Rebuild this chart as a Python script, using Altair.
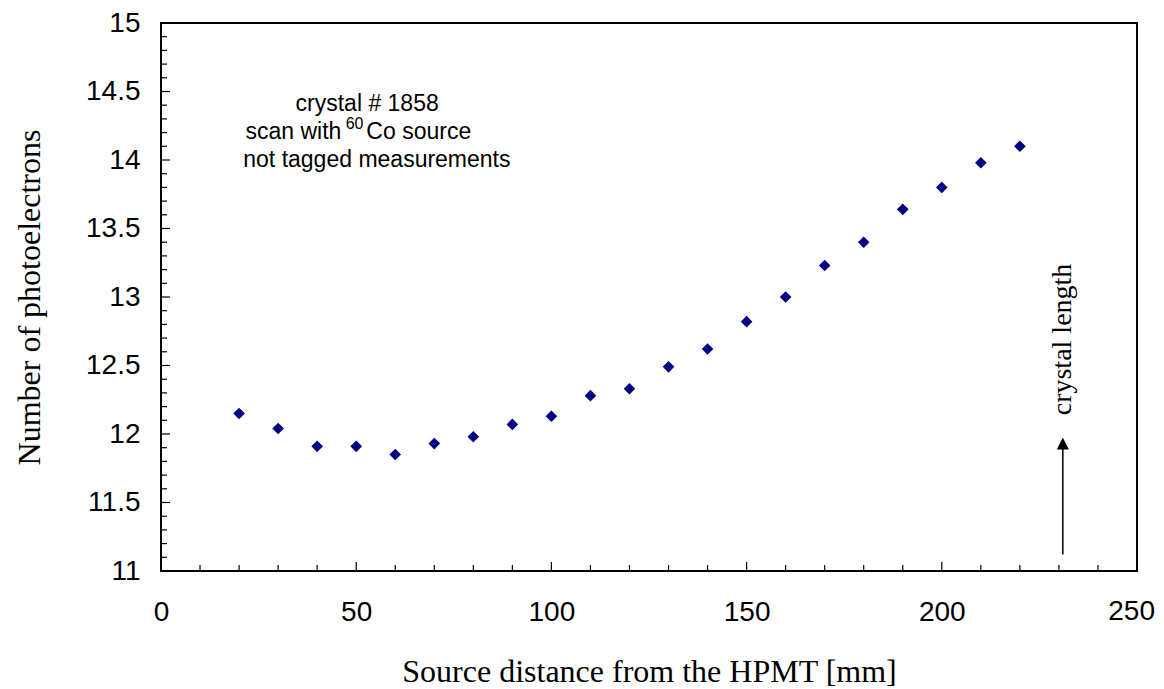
import altair as alt
import pandas as pd

# ---- data ----
distance_mm = [20, 30, 40, 50, 60, 70, 80, 90, 100, 110, 120, 130, 140, 150, 160, 170, 180, 190, 200, 210, 220]
photoelectrons = [12.15, 12.04, 11.91, 11.91, 11.85, 11.93, 11.98, 12.07, 12.13, 12.28, 12.33,
                  12.49, 12.62, 12.82, 13.00, 13.23, 13.40, 13.64, 13.80, 13.98, 14.10]

x_major_ticks = [0, 50, 100, 150, 200, 250]
x_axis_labels = [0, 50, 100, 150, 200]
x_edge_label = ["250"]
x_edge_label_x = [250]
x_minor_ticks = [10, 20, 30, 40, 60, 70, 80, 90, 110, 120, 130, 140, 160, 170, 180, 190, 210, 220, 230, 240]
y_major_ticks = [11, 11.5, 12, 12.5, 13, 13.5, 14, 14.5, 15]
y_minor_ticks = [round(11 + 0.1 * i, 1) for i in range(41) if i % 5 != 0]

# annotation text (data coordinates)
note_text = ["crystal # 1858", "not tagged measurements"]
note_x = [52.8, 55.3]
note_y = [14.36, 13.951]
line2_left = ["scan with"]
line2_left_x = [46.2]
line2_sup = ["60"]
line2_sup_x = [47.3]
line2_sup_y = [14.225]
line2_right = ["Co source"]
line2_right_x = [52.6]
line2_y = [14.152]

arrow_x = [231]
arrow_y_start = [11.12]
arrow_y_end = [11.89]
arrow_head_y = [11.93]
crystal_label = ["crystal length"]
crystal_label_y = [12.69]

W, H = 976, 548
SANS = "Liberation Sans"
SERIF = "Liberation Serif"
RIGHT_PAD = 19

xscale = alt.Scale(domain=[0, 250], nice=False, zero=False)
yscale = alt.Scale(domain=[11, 15], nice=False, zero=False)

df = pd.DataFrame({"x": distance_mm, "y": photoelectrons})

points = alt.Chart(df).mark_point(
    shape="diamond", filled=True, size=135, color="#000080", opacity=1
).encode(
    x=alt.X("x:Q", scale=xscale,
            axis=alt.Axis(title="Source distance from the HPMT [mm]", values=x_axis_labels,
                          format="d", grid=False, ticks=False, domain=False,
                          labelFlush=False, labelOverlap=False,
                          labelFont=SANS, labelFontSize=28, labelColor="black",
                          labelPadding=27,
                          titleFont=SERIF, titleFontSize=32, titleFontWeight="normal",
                          titleColor="black", titleBaseline="alphabetic", titleY=110,
                          titleX=W / 2)),
    y=alt.Y("y:Q", scale=yscale,
            axis=alt.Axis(title="Number of photoelectrons", values=y_major_ticks,
                          format=".1~f", grid=False, ticks=False, domain=False,
                          labelFlush=False, labelOverlap=False,
                          labelFont=SANS, labelFontSize=28, labelColor="black",
                          labelPadding=21,
                          titleFont=SERIF, titleFontSize=32, titleFontWeight="normal",
                          titleColor="black", titleAngle=270, titleBaseline="alphabetic",
                          titleX=-122, titleY=H / 2)),
)

# last x label, kept inside the page edge
edge_label = alt.Chart(pd.DataFrame({"t": x_edge_label, "x": x_edge_label_x})).mark_text(
    font=SANS, fontSize=28, color="black", align="right", baseline="top", dx=RIGHT_PAD - 1
).encode(x=alt.X("x:Q", scale=xscale), y=alt.value(H + 27), text="t:N")

# inward tick marks
xt_major = alt.Chart(pd.DataFrame({"x": x_major_ticks})).mark_rule(color="black", strokeWidth=1.2).encode(
    x=alt.X("x:Q", scale=xscale), y=alt.value(H), y2=alt.value(H - 9))
xt_minor = alt.Chart(pd.DataFrame({"x": x_minor_ticks})).mark_rule(color="black", strokeWidth=1.2).encode(
    x=alt.X("x:Q", scale=xscale), y=alt.value(H), y2=alt.value(H - 6))
yt_major = alt.Chart(pd.DataFrame({"y": y_major_ticks})).mark_rule(color="black", strokeWidth=1.2).encode(
    y=alt.Y("y:Q", scale=yscale), x=alt.value(0), x2=alt.value(9))
yt_minor = alt.Chart(pd.DataFrame({"y": y_minor_ticks})).mark_rule(color="black", strokeWidth=1.2).encode(
    y=alt.Y("y:Q", scale=yscale), x=alt.value(0), x2=alt.value(6))

notes = alt.Chart(pd.DataFrame({"t": note_text, "x": note_x, "y": note_y})).mark_text(
    font=SANS, fontSize=23, color="black", align="center", baseline="alphabetic"
).encode(x=alt.X("x:Q", scale=xscale), y=alt.Y("y:Q", scale=yscale), text="t:N")

l2a = alt.Chart(pd.DataFrame({"t": line2_left, "x": line2_left_x, "y": line2_y})).mark_text(
    font=SANS, fontSize=23, color="black", align="right", baseline="alphabetic"
).encode(x=alt.X("x:Q", scale=xscale), y=alt.Y("y:Q", scale=yscale), text="t:N")
l2b = alt.Chart(pd.DataFrame({"t": line2_sup, "x": line2_sup_x, "y": line2_sup_y})).mark_text(
    font=SANS, fontSize=16, color="black", align="left", baseline="alphabetic"
).encode(x=alt.X("x:Q", scale=xscale), y=alt.Y("y:Q", scale=yscale), text="t:N")
l2c = alt.Chart(pd.DataFrame({"t": line2_right, "x": line2_right_x, "y": line2_y})).mark_text(
    font=SANS, fontSize=23, color="black", align="left", baseline="alphabetic"
).encode(x=alt.X("x:Q", scale=xscale), y=alt.Y("y:Q", scale=yscale), text="t:N")

arrow_df = pd.DataFrame({"x": arrow_x, "y": arrow_y_start, "y2": arrow_y_end, "yh": arrow_head_y,
                         "t": crystal_label, "yt": crystal_label_y})
arrow_line = alt.Chart(arrow_df).mark_rule(color="black", strokeWidth=1.5).encode(
    x=alt.X("x:Q", scale=xscale), y=alt.Y("y:Q", scale=yscale), y2="y2:Q")
arrow_head = alt.Chart(arrow_df).mark_point(
    shape="M0,-1L1,1L-1,1Z", filled=True, size=144, color="black", opacity=1
).encode(x=alt.X("x:Q", scale=xscale), y=alt.Y("yh:Q", scale=yscale))
arrow_text = alt.Chart(arrow_df).mark_text(
    font=SERIF, fontSize=28, color="black", angle=270, align="center", baseline="middle"
).encode(x=alt.X("x:Q", scale=xscale), y=alt.Y("yt:Q", scale=yscale), text="t:N")

chart = alt.layer(
    xt_major, xt_minor, yt_major, yt_minor, points, edge_label, notes, l2a, l2b, l2c,
    arrow_line, arrow_head, arrow_text
).properties(
    width=W, height=H,
    autosize=alt.AutoSizeParams(type="none"),
    padding={"left": 153, "top": 15, "right": RIGHT_PAD, "bottom": 117},
    background="white",
).configure_view(stroke="black", strokeWidth=2)

chart.save("out.html", embed_options={"renderer": "svg", "actions": False})
